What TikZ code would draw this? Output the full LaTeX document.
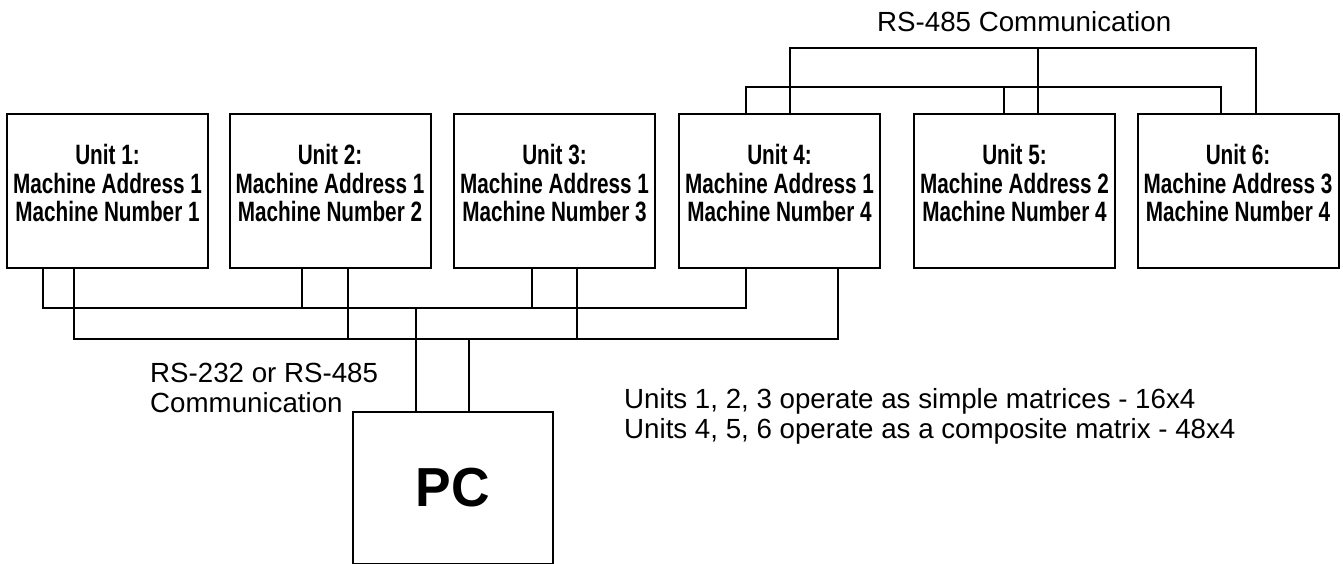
\documentclass[tikz,border=0pt]{standalone}
\usepackage{fontspec}
\setmainfont{Liberation Sans}
\newfontfamily\unitfont[FakeStretch=0.74]{Liberation Sans}
\newfontfamily\pcfont[FakeStretch=0.97]{Liberation Sans}
\usepackage{tikz}

\tikzset{
  unit/.style={draw, line width=2pt, minimum width=201pt, minimum height=154pt,
    align=center, inner sep=0pt, text depth=15.5pt,
    font=\unitfont\bfseries\fontsize{28}{28.5}\selectfont},
  host/.style={draw, line width=2pt, minimum width=200pt, minimum height=152pt,
    inner sep=0pt, font=\pcfont\bfseries\fontsize{55}{60}\selectfont},
  wire/.style={line width=2.4pt},
  link/.style={line width=1.8pt},
  caption/.style={inner sep=0pt, align=left, font=\fontsize{27.7}{29.5}\selectfont}
}

\begin{document}
\begin{tikzpicture}[x=1pt,y=-1pt]
    \clip (0,0) rectangle (1343,563);
    \node[unit] (u1) at (107.5,191) {Unit 1:\\Machine Address 1\\Machine Number 1};
    \node[unit] (u2) at (330,191) {Unit 2:\\Machine Address 1\\Machine Number 2};
    \node[unit] (u3) at (554.5,191) {Unit 3:\\Machine Address 1\\Machine Number 3};
    \node[unit] (u4) at (779.5,191) {Unit 4:\\Machine Address 1\\Machine Number 4};
    \node[unit] (u5) at (1014.5,191) {Unit 5:\\Machine Address 2\\Machine Number 4};
    \node[unit] (u6) at (1238,191) {Unit 6:\\Machine Address 3\\Machine Number 4};
    \node[host] (pc) at (453,488) {PC};
    \node[caption,anchor=west] (rs485) at (877,22) {RS-485 Communication};
    \node[caption,anchor=west] (rs232) at (150,388) {RS-232 or RS-485\\Communication};
    \node[caption,anchor=west] (note) at (624,416.5) {Units 1, 2, 3 operate as simple matrices - 16x4\\Units 4, 5, 6 operate as a composite matrix - 48x4};
    % RS-232 / RS-485 lines to the PC
    \draw[wire] (u1.south -| 43,0) |- (746,308) -- (u4.south -| 746,0);
    \draw[wire] (u1.south -| 74,0) |- (838,339) -- (u4.south -| 838,0);
    \draw[wire] (u2.south -| 302,0) -- (302,308);
    \draw[wire] (u2.south -| 348,0) -- (348,339);
    \draw[wire] (u3.south -| 532,0) -- (532,308);
    \draw[wire] (u3.south -| 577,0) -- (577,339);
    \draw[wire] (pc.north -| 416,0) -- (416,308);
    \draw[wire] (pc.north -| 469,0) -- (469,339);
    % RS-485 between units 4, 5, 6
    \draw[link] (u4.north -| 790,0) |- (1256,48) -- (u6.north -| 1256,0);
    \draw[link] (u4.north -| 746,0) |- (1221,87) -- (u6.north -| 1221,0);
    \draw[link] (u5.north -| 1038,0) -- (1038,48);
    \draw[link] (u5.north -| 1004,0) -- (1004,87);
\end{tikzpicture}
\end{document}
